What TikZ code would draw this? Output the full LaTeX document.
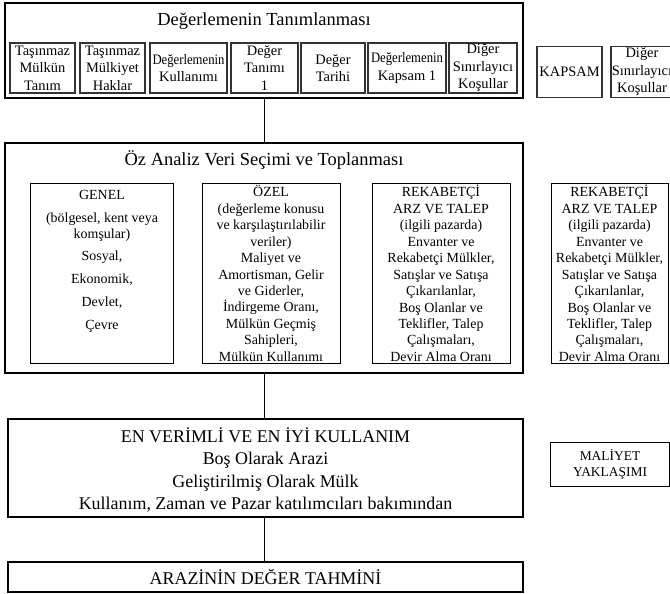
\documentclass[tikz,border=0pt]{standalone}
\usepackage{fontspec}
\setmainfont{Liberation Serif}
\begin{document}
\begin{tikzpicture}[x=1bp,y=-1bp,
  frame/.style={draw, line width=1.1bp, inner sep=0pt},
  sbox/.style={draw=black!80, line width=1.5bp, inner sep=0pt, align=center,
    font=\fontsize{14.5}{17.5}\selectfont, minimum height=50bp},
  dbox/.style={draw, line width=1bp, inner sep=0pt, align=center,
    font=\fontsize{14}{16.5}\selectfont},
  ttl/.style={inner sep=0pt, align=center, font=\fontsize{18.5}{22}\selectfont},
  txt/.style={inner sep=0pt, align=center},
  conn/.style={draw, line width=1bp}
]
\useasboundingbox (0,0) rectangle (670,594);

% ---- top block
\node[frame, minimum width=518bp, minimum height=95bp] (f1) at (264,50.5) {};
\node[ttl] (t1) at (264,21) {Değerlemenin Tanımlanması};
\node[sbox, minimum width=65bp] (b1) at (42.5,68) {Taşınmaz\\Mülkün\\Tanım};
\node[sbox, minimum width=65bp] (b2) at (112.5,68) {Taşınmaz\\Mülkiyet\\Haklar};
\node[sbox, minimum width=77bp] (b3) at (188.5,68) {\scalebox{0.88}[1]{Değerlemenin}\\Kullanımı};
\node[sbox, minimum width=67bp] (b4) at (264.5,68) {Değer\\Tanımı\\1};
\node[sbox, minimum width=64bp] (b5) at (333,68) {Değer\\Tarihi};
\node[sbox, minimum width=78bp] (b6) at (407,68) {\scalebox{0.88}[1]{Değerlemenin}\\Kapsam 1};
\node[sbox, minimum width=68bp] (b7) at (483,68) {Diğer\\Sınırlayıcı\\Koşullar};
\node[sbox, minimum width=65bp, minimum height=51bp] (k1) at (569.5,72) {KAPSAM};
\node[sbox, minimum width=62bp, minimum height=51bp] (k2) at (642,72) {Diğer\\Sınırlayıcı\\Koşullar};

% ---- data block
\node[frame, minimum width=518bp, minimum height=230bp] (f2) at (264,258) {};
\node[ttl] (t2) at (264,160) {Öz Analiz Veri Seçimi ve Toplanması};
\node[dbox, minimum width=142bp, minimum height=179bp] (genel) at (102,273.5) {};
\node[txt, anchor=north, font=\fontsize{14}{16.2}\selectfont] (genelt) at ([yshift=-7bp]genel.north)
  {GENEL\\[6bp](bölgesel, kent veya\\komşular)\\[6bp]Sosyal,\\[7bp]Ekonomik,\\[7bp]Devlet,\\[7bp]Çevre};
\node[dbox, minimum width=138bp, minimum height=179bp] (ozel) at (271,273.5)
  {ÖZEL\\(değerleme konusu\\ve karşılaştırılabilir\\veriler)\\Maliyet ve\\Amortisman, Gelir\\ve Giderler,\\İndirgeme Oranı,\\Mülkün Geçmiş\\Sahipleri,\\Mülkün Kullanımı};
\node[dbox, minimum width=138bp, minimum height=179bp] (rek) at (441,273.5)
  {REKABETÇİ\\ARZ VE TALEP\\(ilgili pazarda)\\Envanter ve\\Rekabetçi Mülkler,\\Satışlar ve Satışa\\Çıkarılanlar,\\Boş Olanlar ve\\Teklifler, Talep\\Çalışmaları,\\Devir Alma Oranı};
\node[dbox, minimum width=117bp, minimum height=179bp] (rek2) at (609.5,273.5)
  {REKABETÇİ\\ARZ VE TALEP\\(ilgili pazarda)\\Envanter ve\\Rekabetçi Mülkler,\\Satışlar ve Satışa\\Çıkarılanlar,\\Boş Olanlar ve\\Teklifler, Talep\\Çalışmaları,\\Devir Alma Oranı};

% ---- highest and best use
\node[frame, minimum width=515bp, minimum height=98bp] (f3) at (265.5,468) {};
\node[txt, font=\fontsize{18}{22.5}\selectfont] (f3t) at (265.5,470)
  {EN VERİMLİ VE EN İYİ KULLANIM\\Boş Olarak Arazi\\Geliştirilmiş Olarak Mülk\\Kullanım, Zaman ve Pazar katılımcıları bakımından};
\node[dbox, minimum width=119bp, minimum height=44bp, font=\fontsize{13.5}{16}\selectfont] (mal) at (610,464)
  {MALİYET\\YAKLAŞIMI};

% ---- land value
\node[frame, minimum width=515bp, minimum height=30bp, font=\fontsize{18}{22}\selectfont] (f4) at (265.5,577)
  {ARAZİNİN DEĞER TAHMİNİ};

% ---- connectors
\draw[conn] (f1.south) -- (f2.north);
\draw[conn] (f2.south) -- (f2.south |- f3.north);
\draw[conn] (f2.south |- f3.south) -- (f2.south |- f4.north);
\end{tikzpicture}
\end{document}
